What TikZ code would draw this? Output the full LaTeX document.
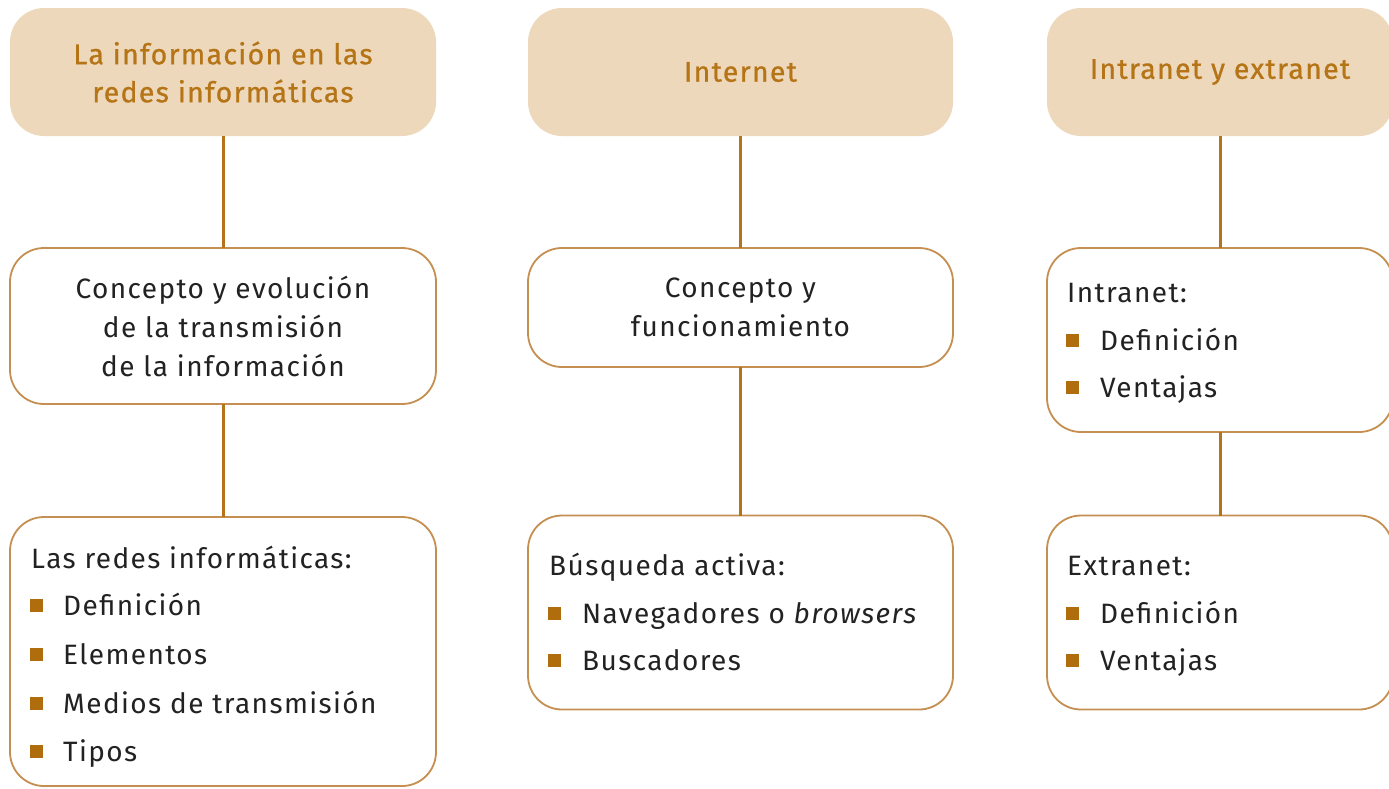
\documentclass[tikz,border=0pt]{standalone}
\usepackage{fontspec}
\setmainfont{Fira Sans}[LetterSpace=5]
\newfontfamily\headfont[FakeBold=0.8,LetterSpace=4.5]{Fira Sans}
\definecolor{hdrfill}{HTML}{EDD8BB}
\definecolor{hdrtext}{HTML}{B57416}
\definecolor{conn}{HTML}{B5731A}
\definecolor{boxline}{HTML}{C48F50}
\definecolor{bul}{HTML}{B06D0E}
\definecolor{txt}{HTML}{222222}
\tikzset{
  hdr/.style={draw=none, fill=hdrfill, rounded corners=34pt, inner sep=0pt, outer sep=0pt,
    text=hdrtext, align=center, font=\headfont\fontsize{28.5}{38}\selectfont},
  topic/.style={draw=boxline, line width=1.8pt, fill=white, rounded corners=34pt, inner sep=0pt, outer sep=0pt,
    text=txt, align=center, font=\fontsize{28}{39}\selectfont},
  conn/.style={draw=conn, line width=3pt},
  lbl/.style={anchor=base west, inner sep=0pt, text=txt, font=\fontsize{28}{30}\selectfont},
  bulletsq/.style={fill=bul, draw=none, minimum size=13pt, inner sep=0pt, anchor=south west}
}
\begin{document}
\begin{tikzpicture}[x=1pt,y=-1pt]
\useasboundingbox (0,0) rectangle (1389,788);
% headers
\node[hdr, minimum width=426pt, minimum height=128pt] (h1) at (223,72) {La información en las\\redes informáticas};
\node[hdr, minimum width=425pt, minimum height=128pt] (h2) at (740.5,72) {Internet};
\node[hdr, minimum width=346pt, minimum height=128pt] (h3) at (1220,72) {Intranet y extranet};
% middle boxes
\node[topic, minimum width=426pt, minimum height=156pt] (m1) at (223,326) {Concepto y evolución\\de la transmisión\\de la información};
\node[topic, minimum width=425pt, minimum height=119pt] (m2) at (740.5,307.5) {Concepto y\\funcionamiento};
\node[topic, minimum width=346pt, minimum height=184pt] (m3) at (1220,340) {};
% bottom boxes
\node[topic, minimum width=426pt, minimum height=269pt] (b1) at (223,651.5) {};
\node[topic, minimum width=425pt, minimum height=194pt] (b2) at (740.5,612.5) {};
\node[topic, minimum width=346pt, minimum height=194pt] (b3) at (1220,612.5) {};
% connectors
\draw[conn] (h1.south) -- (m1.north);
\draw[conn] (m1.south) -- (b1.north);
\draw[conn] (h2.south) -- (m2.north);
\draw[conn] (m2.south) -- (b2.north);
\draw[conn] (h3.south) -- (m3.north);
\draw[conn] (m3.south) -- (b3.north);
% column 3 middle list
\node[lbl] (m3t) at (1067,302) {Intranet:};
\node[bulletsq] (m3b1) at (1066,347) {};
\node[lbl] (m3i1) at (1100,350) {Definición};
\node[bulletsq] (m3b2) at (1066,394) {};
\node[lbl] (m3i2) at (1100,397) {Ventajas};
% column 1 bottom list
\node[lbl] (b1t) at (31,568) {Las redes informáticas:};
\node[bulletsq] (b1b1) at (30,612) {};
\node[lbl] (b1i1) at (63,615) {Definición};
\node[bulletsq] (b1b2) at (30,661) {};
\node[lbl] (b1i2) at (63,664) {Elementos};
\node[bulletsq] (b1b3) at (30,710) {};
\node[lbl] (b1i3) at (63,713) {Medios de transmisión};
\node[bulletsq] (b1b4) at (30,758) {};
\node[lbl] (b1i4) at (63,761) {Tipos};
% column 2 bottom list
\node[lbl] (b2t) at (549,575) {Búsqueda activa:};
\node[bulletsq] (b2b1) at (548,620) {};
\node[lbl] (b2i1) at (582,623) {Navegadores o \textit{browsers}};
\node[bulletsq] (b2b2) at (548,667) {};
\node[lbl] (b2i2) at (582,670) {Buscadores};
% column 3 bottom list
\node[lbl] (b3t) at (1067,575) {Extranet:};
\node[bulletsq] (b3b1) at (1066,620) {};
\node[lbl] (b3i1) at (1100,623) {Definición};
\node[bulletsq] (b3b2) at (1066,667) {};
\node[lbl] (b3i2) at (1100,670) {Ventajas};
\end{tikzpicture}
\end{document}
